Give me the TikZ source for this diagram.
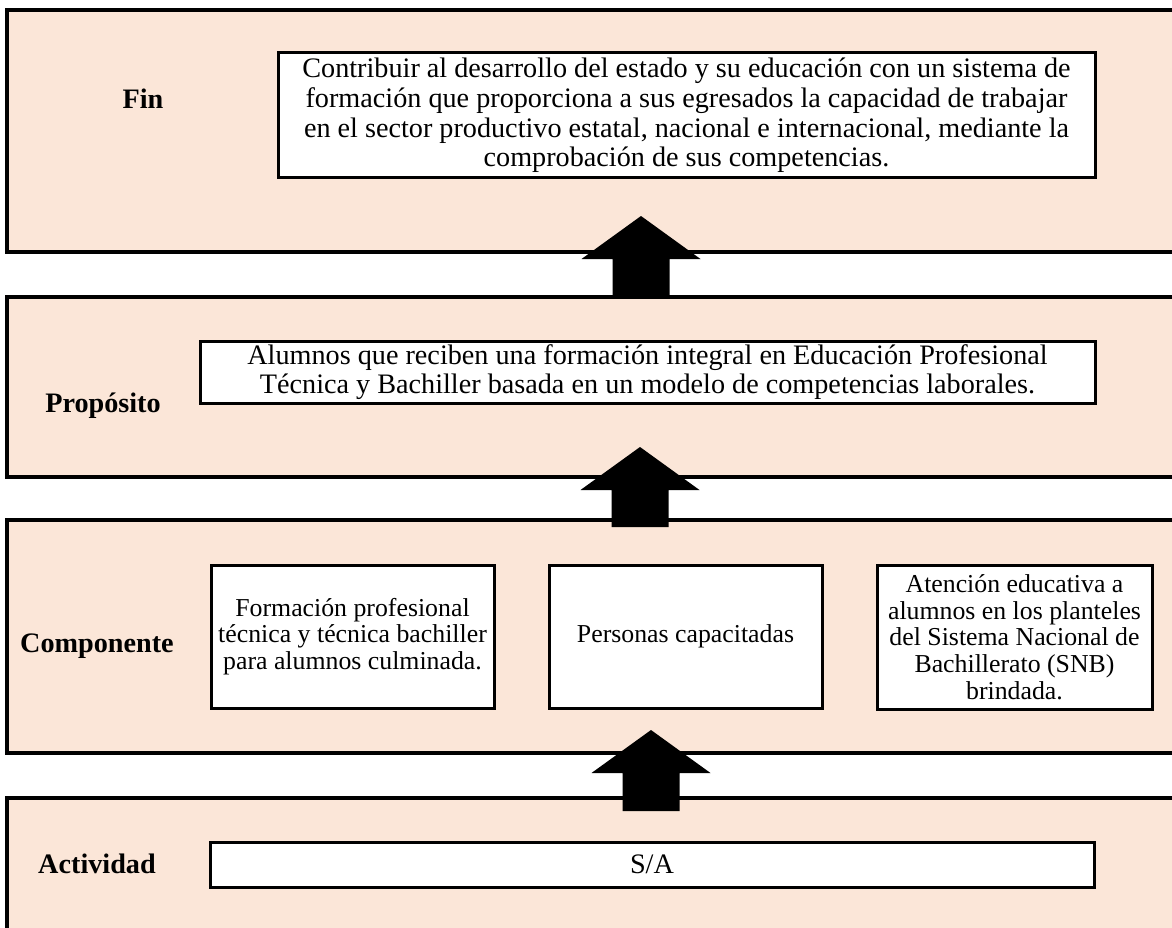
\documentclass[tikz,border=0pt]{standalone}
\usepackage{fontspec}
\setmainfont{Liberation Serif}
\definecolor{peach}{HTML}{FBE6D8}
\newcommand\bigtxt{\fontsize{28.2}{29.6}\selectfont}
\newcommand\smalltxt{\fontsize{25.8}{26.7}\selectfont}
\newcommand\myblockarrow[2]{\fill[black] (#1) -- ++(59.5,43) -- ++(-31,0) -- ++(0,#2) -- ++(-57,0) -- ++(0,-#2) -- ++(-31,0) -- cycle;}
\begin{document}
\begin{tikzpicture}[x=1pt,y=-1pt,
  band/.style={draw=black, line width=3.4pt, fill=peach, inner sep=0pt, minimum width=1178pt},
  box/.style={draw=black, line width=3pt, fill=white, inner sep=0pt, align=center},
  bigbox/.style={box, font=\bigtxt},
  smallbox/.style={box, font=\smalltxt},
  lbl/.style={anchor=base, inner sep=0pt, font=\bigtxt\bfseries}]
\useasboundingbox (0,0) rectangle (1172,928);
\clip (0,0) rectangle (1172,928);
% bands
\node[band, minimum height=242pt] (finband) at (596,131) {};
\node[band, minimum height=180pt] (propband) at (596,387) {};
\node[band, minimum height=233pt] (compband) at (596,636.5) {};
\node[band, minimum height=142pt] (actband) at (596,869) {};
% labels
\node[lbl] (finlbl) at (143,109) {Fin};
\node[lbl] (proplbl) at (103,412) {Propósito};
\node[lbl] (complbl) at (97,652) {Componente};
\node[lbl] (actlbl) at (97,873) {Actividad};
% boxes
\node[bigbox, minimum width=817pt, minimum height=125pt] (finbox) at (686.5,115.5)
  {Contribuir al desarrollo del estado y su educación con un sistema de\\
   formación que proporciona a sus egresados la capacidad de trabajar\\
   en el sector productivo estatal, nacional e internacional, mediante la\\
   comprobación de sus competencias.};
\node[bigbox, minimum width=895pt, minimum height=62pt] (propbox) at (647.5,372)
  {Alumnos que reciben una formación integral en Educación Profesional\\
   Técnica y Bachiller basada en un modelo de competencias laborales.};
\node[smallbox, minimum width=283pt, minimum height=143pt] (c1) at (352.5,636.5)
  {Formación profesional\\técnica y técnica bachiller\\para alumnos culminada.};
\node[smallbox, minimum width=273pt, minimum height=143pt] (c2) at (685.5,636.5)
  {Personas capacitadas};
\node[smallbox, minimum width=275pt, minimum height=144pt] (c3) at (1014.5,637)
  {Atención educativa a\\alumnos en los planteles\\del Sistema Nacional de\\Bachillerato (SNB)\\brindada.};
\node[bigbox, minimum width=884pt, minimum height=45pt] (actbox) at (652,864.5) {S/A};
% arrows
\coordinate (a1) at (641,216);
\coordinate (a2) at (640,447);
\coordinate (a3) at (651,730);
\myblockarrow{a1}{39}
\myblockarrow{a2}{37}
\myblockarrow{a3}{38}
\end{tikzpicture}
\end{document}
